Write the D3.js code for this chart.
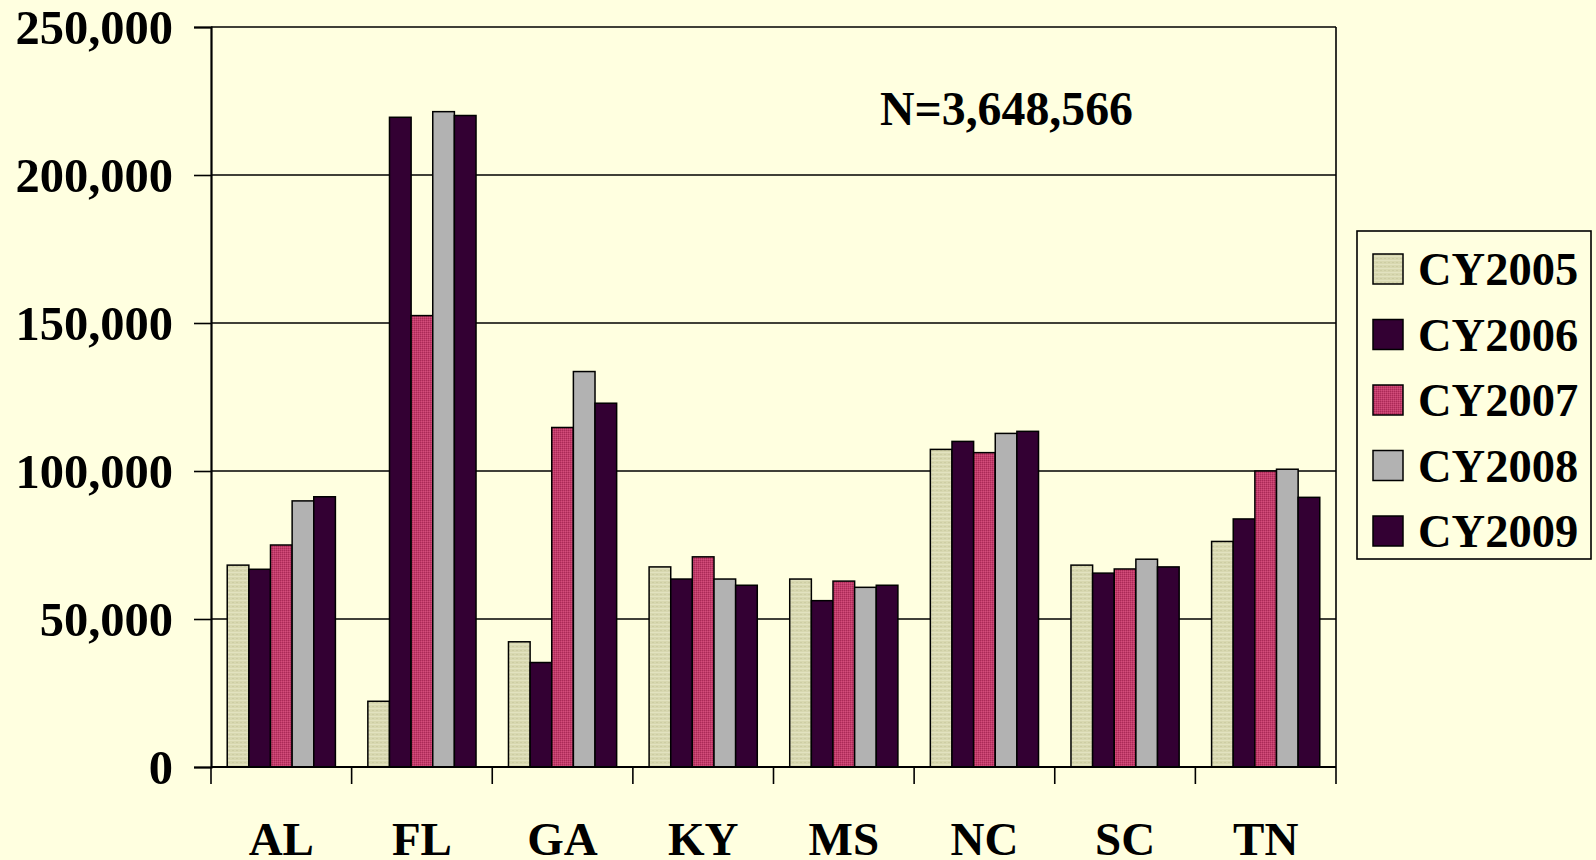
<!DOCTYPE html>
<html><head><meta charset="utf-8">
<script src="https://cdn.jsdelivr.net/npm/d3@7"></script>
<style>
html,body{margin:0;padding:0;background:#ffffe0;}
svg{display:block;}
text{font-family:"Liberation Serif","Times New Roman",serif;font-weight:bold;fill:#000;}
</style></head>
<body>
<svg id="chart" width="1596" height="860"></svg>
<script>
const categories = ["AL","FL","GA","KY","MS","NC","SC","TN"];
const seriesNames = ["CY2005","CY2006","CY2007","CY2008","CY2009"];
const cy2005 = [68200, 22200, 42300, 67600, 63500, 107300, 68200, 76200];
const cy2006 = [66800, 219500, 35300, 63500, 56200, 110000, 65500, 83800];
const cy2007 = [75000, 152500, 114700, 71000, 62800, 106200, 66900, 100000];
const cy2008 = [89900, 221400, 133600, 63500, 60700, 112700, 70200, 100600];
const cy2009 = [91300, 220100, 122900, 61400, 61400, 113400, 67600, 91100];
const yTicks = [0, 50000, 100000, 150000, 200000, 250000];
const annotation = "N=3,648,566";
const seriesValues = [cy2005, cy2006, cy2007, cy2008, cy2009];
const fills = ["url(#pat2005)", "#330033", "url(#pat2007)", "#b2b2b2", "#330033"];

const svg = d3.select("#chart");
const W = 1596, H = 860;
svg.append("rect").attr("width", W).attr("height", H).attr("fill", "#ffffe0");

const defs = svg.append("defs");
const p5 = defs.append("pattern").attr("id","pat2005").attr("patternUnits","userSpaceOnUse").attr("width",4).attr("height",4);
p5.append("rect").attr("width",4).attr("height",4).attr("fill","#d8d8b0");
p5.append("rect").attr("width",4).attr("height",1).attr("fill","#e2e2c0");
p5.append("rect").attr("y",2).attr("width",2).attr("height",1).attr("fill","#cdcda4");
const p7 = defs.append("pattern").attr("id","pat2007").attr("patternUnits","userSpaceOnUse").attr("width",2).attr("height",2);
p7.append("rect").attr("width",2).attr("height",2).attr("fill","#c43a6a");
p7.append("rect").attr("width",1).attr("height",1).attr("fill","#a82c58");
p7.append("rect").attr("x",1).attr("y",1).attr("width",1).attr("height",1).attr("fill","#d0507c");

const plot = {left: 211, right: 1336, top: 27, bottom: 767};

const x = d3.scaleBand().domain(categories).range([plot.left, plot.right]).padding(0);
const step = x.bandwidth();
const barW = step / 6.5;
const xs = d3.scaleBand().domain(seriesNames).range([0.75 * barW, step - 0.75 * barW]).padding(0);
const y = d3.scaleLinear().domain([0, 250000]).range([plot.bottom, plot.top]);

// gridlines
svg.append("g").selectAll("line").data(yTicks.filter(d => d > 0)).join("line")
  .attr("x1", plot.left).attr("x2", plot.right)
  .attr("y1", d => y(d)).attr("y2", d => y(d))
  .attr("stroke", "#000").attr("stroke-width", 1.6);
// right border
svg.append("line").attr("x1", plot.right).attr("x2", plot.right)
  .attr("y1", plot.top).attr("y2", plot.bottom).attr("stroke", "#000").attr("stroke-width", 1.6);

// bars
const data = [];
categories.forEach((c, i) => seriesNames.forEach((s, j) => data.push({c, s, j, v: seriesValues[j][i]})));
svg.append("g").selectAll("rect").data(data).join("rect")
  .attr("x", d => x(d.c) + xs(d.s))
  .attr("y", d => y(d.v))
  .attr("width", xs.bandwidth())
  .attr("height", d => y(0) - y(d.v))
  .attr("fill", d => fills[d.j])
  .attr("stroke", "#000").attr("stroke-width", 1.5);

// y axis
const yAxis = d3.axisLeft(y).tickValues(yTicks).tickSize(17).tickPadding(21)
  .tickFormat(d3.format(","));
const gy = svg.append("g").attr("transform", `translate(${plot.left},0)`).call(yAxis);
gy.select(".domain").attr("stroke", "#000").attr("stroke-width", 2.2);
gy.selectAll(".tick line").attr("stroke", "#000").attr("stroke-width", 1.6);
gy.selectAll(".tick text").attr("font-size", 48.5).attr("fill", "#000")
  .style("font-family", '"Liberation Serif","Times New Roman",serif').style("font-weight", "bold").attr("dy", "0.34em");

// x axis
const xAxis = d3.axisBottom(x).tickSize(0).tickPadding(0);
const gx = svg.append("g").attr("transform", `translate(0,${plot.bottom})`).call(xAxis);
gx.select(".domain").remove();
gx.selectAll(".tick text").attr("font-size", 47).attr("fill", "#000").attr("y", 88).attr("dy", 0)
  .style("font-family", '"Liberation Serif","Times New Roman",serif').style("font-weight", "bold");
svg.append("line").attr("x1", plot.left).attr("x2", plot.right).attr("y1", plot.bottom).attr("y2", plot.bottom)
  .attr("stroke", "#000").attr("stroke-width", 2.2);
// category separators
const seps = categories.map(c => x(c)).concat([plot.right]);
svg.append("g").selectAll("line").data(seps).join("line")
  .attr("x1", d => d).attr("x2", d => d)
  .attr("y1", plot.bottom).attr("y2", plot.bottom + 17)
  .attr("stroke", "#000").attr("stroke-width", 1.6);

// annotation
svg.append("text").attr("x", 880).attr("y", 125).attr("font-size", 47.8).text(annotation);

// legend
const lg = svg.append("g");
lg.append("rect").attr("x", 1357).attr("y", 231).attr("width", 234).attr("height", 328)
  .attr("fill", "#ffffe0").attr("stroke", "#000").attr("stroke-width", 1.6);
const items = lg.selectAll("g.item").data(seriesNames).join("g").attr("class", "item")
  .attr("transform", (d, i) => `translate(0,${i * 65.5})`);
items.append("rect").attr("x", 1373).attr("y", 254).attr("width", 30).attr("height", 30)
  .attr("fill", (d, i) => fills[i]).attr("stroke", "#000").attr("stroke-width", 1.5);
items.append("text").attr("x", 1418).attr("y", 285).attr("font-size", 46.5).text(d => d);
</script>
</body></html>
